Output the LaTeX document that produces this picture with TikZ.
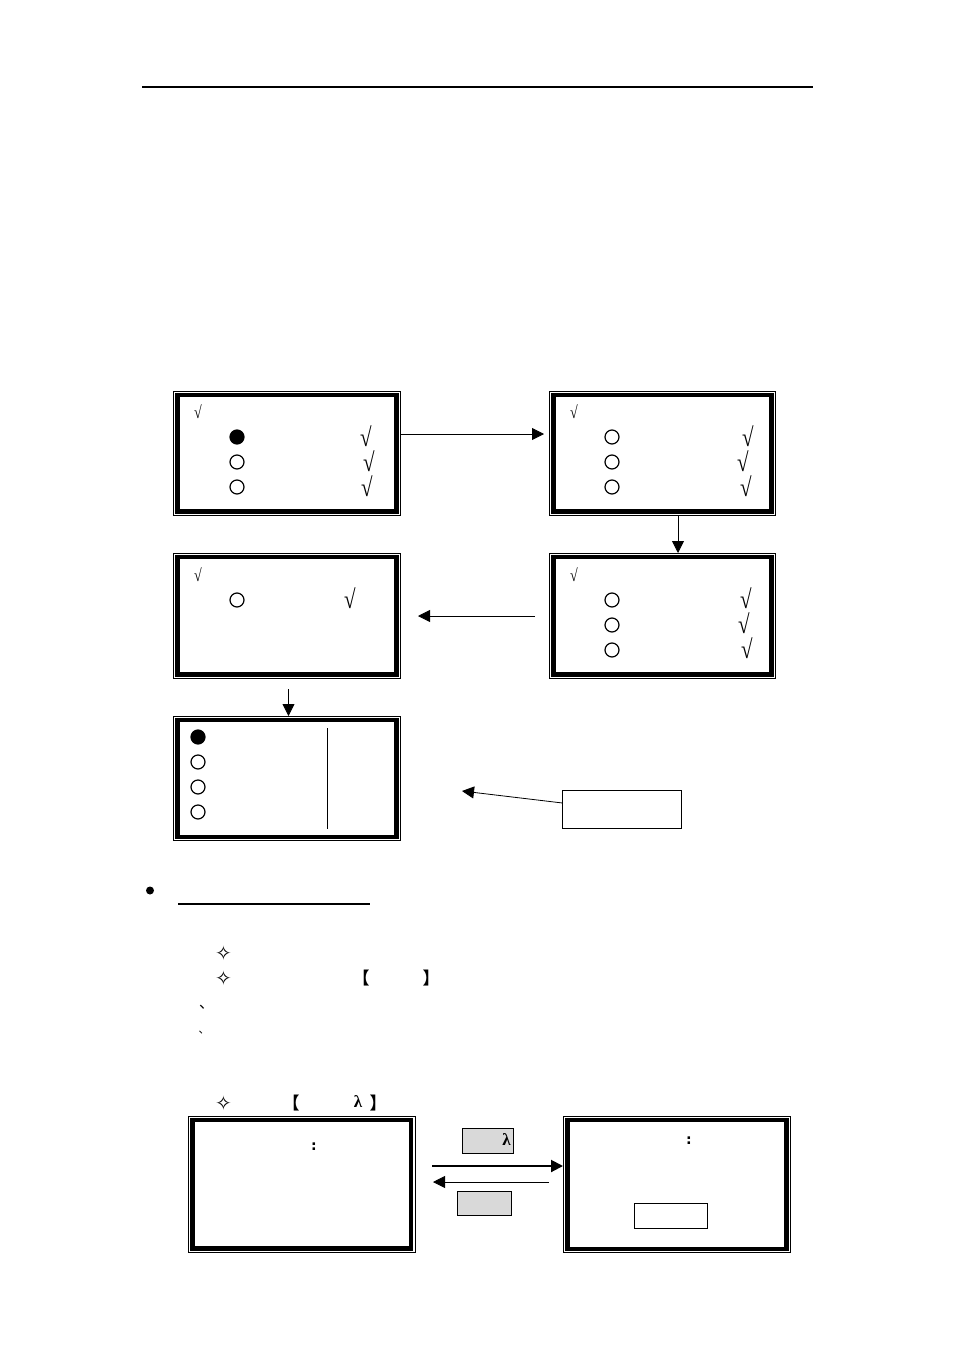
\documentclass[tikz,border=0pt]{standalone}
\usepackage{fontspec}
\setmainfont{Liberation Serif}
\newfontfamily\symf{DejaVu Sans}
\newfontfamily\cjkf{Noto Sans CJK SC}[BoldFont={* Bold}]
\usetikzlibrary{arrows.meta,calc}
\tikzset{
  x=1pt,y=-1pt,
  outerframe/.style={draw=black,line width=1pt,fill=white,inner sep=0pt,outer sep=0pt,anchor=north west},
  radio/.style={circle,draw=black,line width=1.2pt,fill=white,minimum size=14pt,inner sep=0pt,outer sep=0pt},
  radioon/.style={radio,fill=black},
  chk/.style={inner sep=0pt,font=\fontsize{21}{21}\selectfont,yscale=1.25},
  chks/.style={inner sep=0pt,font=\fontsize{14}{14}\selectfont,yscale=1.25},
  star/.style={inner sep=0pt,font=\symf\fontsize{20}{20}\selectfont},
  brk/.style={inner sep=0pt,font=\cjkf\bfseries\fontsize{17}{17}\selectfont},
  dotmark/.style={inner sep=0pt,font=\symf\bfseries\fontsize{14}{14}\selectfont},
  lamb/.style={inner sep=0pt,font=\bfseries\fontsize{17}{17}\selectfont},
  greybox/.style={draw=black,line width=0.8pt,fill=black!15,inner sep=0pt,outer sep=0pt,anchor=north west},
  plainbox/.style={draw=black,line width=0.8pt,fill=white,inner sep=0pt,outer sep=0pt,anchor=north west},
  arr/.style={draw=black,line width=0.8pt,-{Triangle[length=12pt,width=12pt]}},
  arrthick/.style={draw=black,line width=2pt,-{Triangle[length=12pt,width=12pt]}}
}
\newcommand{\screen}[5]{%
  \node[outerframe,minimum width=#4-#2,minimum height=#5-#3] (#1) at (#2,#3) {};
  \draw[black,line width=4.4pt] (#2+4.5,#3+3.8) rectangle (#4-4,#5-3.6);
}
\begin{document}
\begin{tikzpicture}
\useasboundingbox (0,0) rectangle (954,1351);
\fill[white] (0,0) rectangle (954,1351);
% top rule
\coordinate (ruleA) at (142,87); \coordinate (ruleB) at (813,87);
\draw[line width=2pt] (ruleA) -- (ruleB);
% screens
\screen{boxA}{173}{391}{400.5}{515}
\screen{boxB}{549}{391}{775.5}{515}
\screen{boxC}{173}{553}{400.5}{678}
\screen{boxD}{549}{553}{775.5}{678}
\screen{boxE}{173}{716}{400.5}{840.5}
\screen{boxF}{188}{1116}{415}{1252}
\screen{boxG}{563}{1116}{790.5}{1252.5}
% radios
\node[radioon] (a1) at (237,437) {};
\node[radio] (a2) at (237,462) {};
\node[radio] (a3) at (237,487) {};
\node[radio] (b1) at (612,437) {};
\node[radio] (b2) at (612,462) {};
\node[radio] (b3) at (612,487) {};
\node[radio] (c1) at (237,600) {};
\node[radio] (d1) at (612,600) {};
\node[radio] (d2) at (612,625) {};
\node[radio] (d3) at (612,650) {};
\node[radioon] (e1) at (198,737) {};
\node[radio] (e2) at (198,762) {};
\node[radio] (e3) at (198,787) {};
\node[radio] (e4) at (198,812) {};
% checks
\node[chks] (ka0) at (198,412) {√};
\node[chk] (ka1) at (366,436) {√};
\node[chk] (ka2) at (369,461) {√};
\node[chk] (ka3) at (367,486) {√};
\node[chks] (kb0) at (574,412) {√};
\node[chk] (kb1) at (748,436) {√};
\node[chk] (kb2) at (743,461) {√};
\node[chk] (kb3) at (746,486) {√};
\node[chks] (kc0) at (198,575) {√};
\node[chk] (kc1) at (350,598) {√};
\node[chks] (kd0) at (574,575) {√};
\node[chk] (kd1) at (746,598) {√};
\node[chk] (kd2) at (744,623) {√};
\node[chk] (kd3) at (747,648) {√};
% divider in last screen
\coordinate (divA) at (327.5,728); \coordinate (divB) at (327.5,828.5);
\draw[line width=0.8pt] (divA) -- (divB);
% flow arrows
\coordinate (endAB) at (544,434);
\coordinate (endBD) at (678,553);
\coordinate (startDC) at (535,616); \coordinate (endDC) at (418,616);
\coordinate (startCE) at (288.5,689);
\draw[arr] (boxA.east |- endAB) -- (endAB);
\draw[arr] (boxB.south -| endBD) -- (boxD.north -| endBD);
\draw[arr] (startDC) -- (endDC);
\draw[arr] (startCE) -- (boxE.north -| startCE);
% note
\node[plainbox,minimum width=119pt,minimum height=38pt] (note) at (562.5,790) {};
\coordinate (noteEnd) at (462,791);
\coordinate (noteStart) at (562.5,803);
\draw[arr] (noteStart) -- (noteEnd);
% bullet and underline
\node[circle,fill=black,minimum size=8pt,inner sep=0pt] (bul) at (150,890.5) {};
\coordinate (ulA) at (178,904); \coordinate (ulB) at (370,904);
\draw[line width=2pt] (ulA) -- (ulB);
% list marks
\node[star] (s1) at (223.5,953) {✧};
\node[star] (s2) at (223.5,978) {✧};
\node[star] (s3) at (223.5,1103) {✧};
\node[brk] (l1) at (361,978) {【};
\node[brk] (r1) at (431,978) {】};
\node[brk] (l2) at (291,1103) {【};
\node[lamb] (lam) at (358,1102) {λ};
\node[brk] (r2) at (378,1103) {】};
\node[inner sep=0pt,font=\cjkf\fontsize{15}{15}\selectfont] (t1) at (206.5,1007) {、};
\node[inner sep=0pt,font=\cjkf\fontsize{11}{11}\selectfont] (t2) at (204,1033) {、};
% colons
\node[dotmark] (colF) at (314,1147) {:};
\node[dotmark] (colG) at (689,1141) {:};
% key boxes
\node[greybox,minimum width=51.4pt,minimum height=25.4pt] (keyA) at (462.3,1128.3) {};
\node[lamb] (lamk) at (506.5,1140) {λ};
\node[greybox,minimum width=54.4pt,minimum height=24.7pt] (keyB) at (457.3,1191) {};
\node[plainbox,minimum width=73.4pt,minimum height=25pt] (inp) at (634.3,1203.3) {};
% key arrows
\coordinate (fwdA) at (432,1166);
\coordinate (backA) at (549,1182); \coordinate (backB) at (433,1182);
\draw[arrthick] (fwdA) -- (boxG.west |- fwdA);
\draw[arr] (backA) -- (backB);
\end{tikzpicture}
\end{document}
